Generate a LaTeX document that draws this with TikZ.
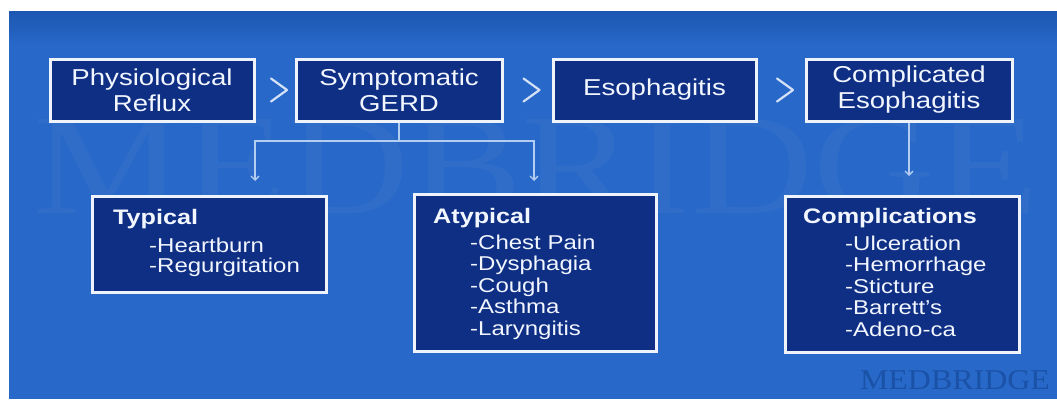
\documentclass[tikz,border=0pt]{standalone}
\usepackage{fontspec}
\setmainfont{Liberation Sans}[FakeStretch=1.2]
\newfontfamily\wmfont{Liberation Serif}
\usetikzlibrary{arrows.meta,calc}
\definecolor{bgblue}{HTML}{2868C8}
\definecolor{topblue}{HTML}{1C57B2}
\definecolor{boxblue}{HTML}{0F2F85}
\definecolor{boxline}{HTML}{EEF3FC}
\definecolor{connc}{HTML}{B4CEF2}
\definecolor{wmdark}{HTML}{1A52A8}
\definecolor{txt}{HTML}{F2F6FF}
\begin{document}
\begin{tikzpicture}[x=1pt,y=-1pt,
  stagebox/.style={draw=boxline, line width=3pt, fill=boxblue, text=txt, align=center,
    inner sep=0pt, minimum height=62pt, font=\fontsize{23}{26}\selectfont},
  listbox/.style={draw=boxline, line width=3pt, fill=boxblue, inner sep=0pt},
  headtext/.style={text=txt, anchor=base west, inner sep=0pt, font=\bfseries\fontsize{21}{24}\selectfont},
  itemtext/.style={text=txt, anchor=base west, inner sep=0pt, font=\fontsize{20}{22}\selectfont},
  conn/.style={draw=connc, line width=1.3pt},
  tip/.style={-{Straight Barb[length=4pt,width=8pt]}},
  chev/.style={draw=txt!85!bgblue, line width=2.2pt, line cap=round, line join=round}]
\useasboundingbox (0,0) rectangle (1057,399);
% background
\fill[white] (0,0) rectangle (1057,399);
\fill[bgblue] (9,11) rectangle (1057,399);
\shade[top color=topblue, bottom color=bgblue] (9,11) rectangle (1057,45);
% watermarks
\node[text=white, opacity=0.035, inner sep=0pt] (wmbig) at (536,167)
  {\resizebox{1005pt}{95pt}{\wmfont MEDBRIDGE}};
\node[text=wmdark, inner sep=0pt] (wmsmall) at (955,380.5)
  {\resizebox{190pt}{19pt}{\wmfont MEDBRIDGE}};
% stage boxes
\node[stagebox, minimum width=204pt] (phys) at (152,90) {Physiological\\Reflux};
\node[stagebox, minimum width=206pt] (gerd) at (399,90) {Symptomatic\\GERD};
\node[stagebox, minimum width=203pt] (esoph) at (654.5,90) {Esophagitis};
\node[stagebox, minimum width=206pt] (compe) at (909,90) {Complicated\\Esophagitis};
% chevrons
\draw[chev] ($(phys.east)!.5!(gerd.west)+(-4,-11.5)$) -- ++(16,11.5) -- ++(-16,11.5);
\draw[chev] ($(gerd.east)!.5!(esoph.west)+(-4,-11.5)$) -- ++(16,11.5) -- ++(-16,11.5);
\draw[chev] ($(esoph.east)!.5!(compe.west)+(-4,-11.5)$) -- ++(16,11.5) -- ++(-16,11.5);
% list boxes
\node[listbox, minimum width=234pt, minimum height=96pt] (typ) at (209,244) {};
\node[listbox, minimum width=242pt, minimum height=157pt] (atyp) at (535,272.5) {};
\node[listbox, minimum width=234pt, minimum height=156pt] (comp) at (902,274) {};
% list texts
\node[headtext] (typh) at (113,224) {Typical};
\foreach \t [count=\i] in {Heartburn,Regurgitation}
  \node[itemtext] (typ\i) at (149,{252+20.5*(\i-1)}) {-\t};
\node[headtext] (atyph) at (433,223) {Atypical};
\foreach \t [count=\i] in {Chest Pain,Dysphagia,Cough,Asthma,Laryngitis}
  \node[itemtext] (atyp\i) at (470,{249+21.5*(\i-1)}) {-\t};
\node[headtext] (comph) at (803,223) {Complications};
\foreach \t [count=\i] in {Ulceration,Hemorrhage,Sticture,Barrett’s,Adeno-ca}
  \node[itemtext] (comp\i) at (845,{250+21.6*(\i-1)}) {-\t};
% connectors
\coordinate (bar) at (399,141);
\coordinate (tl) at (255,181);
\coordinate (tr) at (534,181);
\draw[conn] (gerd.south) -- (bar);
\draw[conn,tip] (bar) -| (tl);
\draw[conn,tip] (bar) -| (tr);
\coordinate (cin) at (909,176);
\draw[conn,tip] (compe.south) -- (cin);
\end{tikzpicture}
\end{document}
